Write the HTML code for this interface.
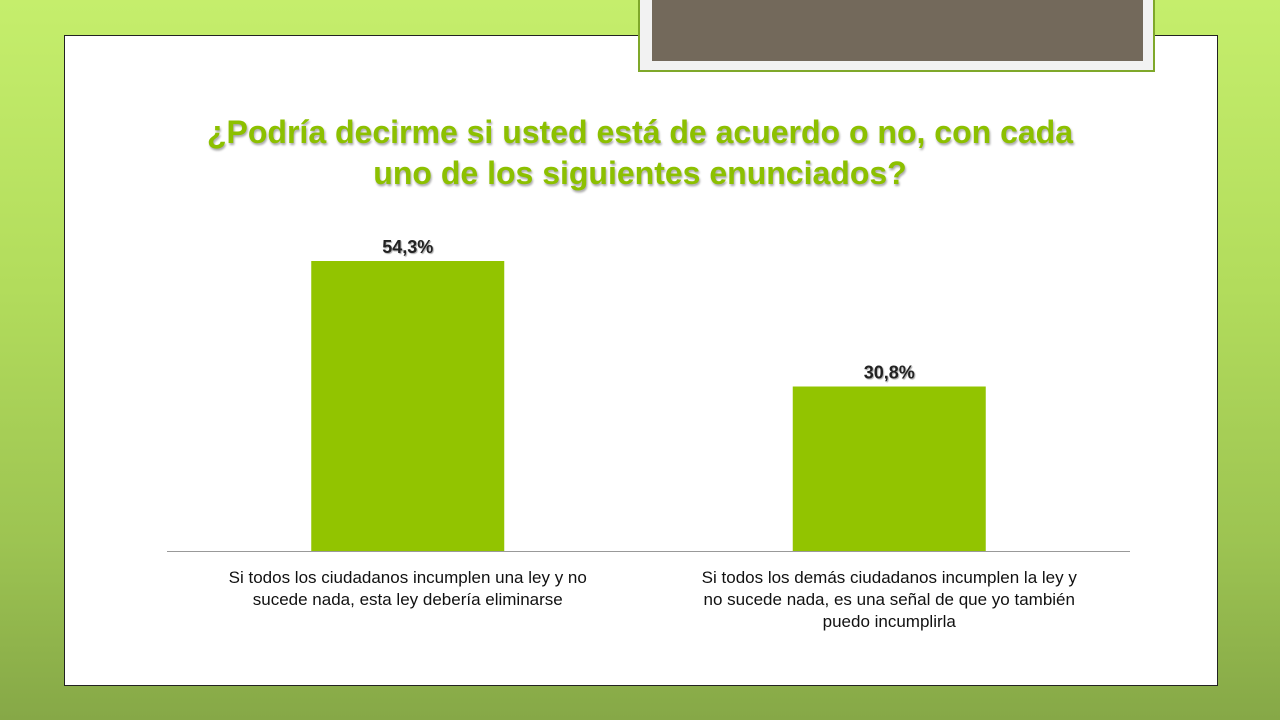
<!DOCTYPE html>
<html><head><meta charset="utf-8"><style>
body{margin:0;width:1280px;height:720px;overflow:hidden;font-family:"Liberation Sans",sans-serif;
background:linear-gradient(180deg,#c5ee6c 0%,#b2dc5c 40%,#9dc452 75%,#86a847 100%);position:relative}
#box{position:absolute;left:64px;top:35px;width:1152px;height:649px;background:#fff;border:1px solid #222}
#tab{position:absolute;left:638px;top:-2px;width:513px;height:72px;background:#f2f2f2;border:2px solid #7fa82a;border-top:none}
#tabin{position:absolute;left:12px;top:0;width:491px;height:63px;background:#73695b}
#title{position:absolute;left:64px;top:112px;width:1152px;text-align:center;font-weight:bold;font-size:32px;line-height:41px;color:#8cc000;text-shadow:1px 2px 2px rgba(0,0,0,.35)}
svg{position:absolute;left:0;top:0}
</style></head><body>
<div id="box"></div>
<div id="tab"><div id="tabin"></div></div>
<div id="title">¿Podría decirme si usted está de acuerdo o no, con cada<br>uno de los siguientes enunciados?</div>
<svg id="chart" width="1280" height="720"></svg>
<script>
const categories=[["Si todos los ciudadanos incumplen una ley y no","sucede nada, esta ley debería eliminarse"],["Si todos los demás ciudadanos incumplen la ley y","no sucede nada, es una señal de que yo también","puedo incumplirla"]];
const values=[54.3,30.8];
const valueLabels=["54,3%","30,8%"];
const svg=document.getElementById('chart');const NS="http://www.w3.org/2000/svg";
const x0=167,x1=1130,base=551,scale=290/54.3,barW=193;
const band=(x1-x0)/values.length;
const y=v=>base-v*scale;
const cx=i=>x0+band*(i+0.5);
function mk(t,a){const e=document.createElementNS(NS,t);for(const k in a)e.setAttribute(k,a[k]);svg.appendChild(e);return e;}
values.forEach((v,i)=>{
const r=mk('rect',{x:cx(i)-barW/2,y:y(v),width:barW,height:base-y(v),fill:'#92c400'});


const t=mk('text',{x:cx(i),y:y(v)-8,'text-anchor':'middle','font-size':'18','font-weight':'bold',fill:'#222',style:'text-shadow:1px 1px 1px rgba(0,0,0,.35)'});
t.textContent=valueLabels[i];


categories[i].forEach((line,j)=>{
const c=mk('text',{x:cx(i),y:583+j*22,'text-anchor':'middle','font-size':'17',fill:'#111'});
c.textContent=line;


});
});
const ax=mk('line',{x1:x0,x2:x1,y1:base+0.5,y2:base+0.5,stroke:'#999','stroke-width':1});


</script>
</body></html>
